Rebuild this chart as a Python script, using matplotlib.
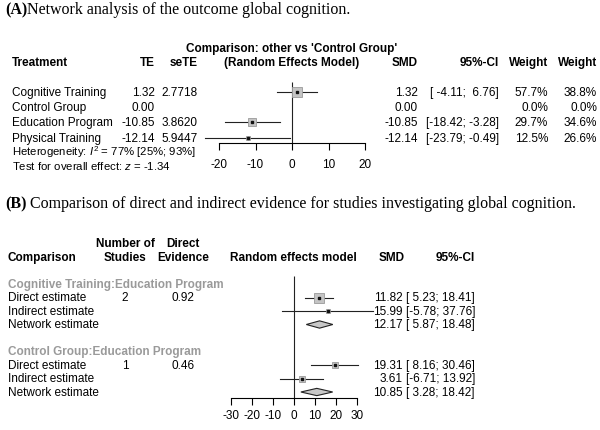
import matplotlib
matplotlib.use("Agg")
import matplotlib.pyplot as plt
from matplotlib.text import Annotation

# ---- data: panel A (network meta-analysis vs Control Group) ----
treatments = ["Cognitive Training", "Control Group", "Education Program", "Physical Training"]
te = [1.32, 0.00, -10.85, -12.14]
se_te = [2.7718, None, 3.8620, 5.9447]
ci_low = [-4.11, None, -18.42, -23.79]
ci_high = [6.76, None, -3.28, -0.49]
weight_fixed = [57.7, 0.0, 29.7, 12.5]
weight_random = [38.8, 0.0, 34.6, 26.6]
ticks_a = [-20, -10, 0, 10, 20]

# ---- data: panel B (direct vs indirect evidence) ----
comparisons = ["Cognitive Training:Education Program", "Control Group:Education Program"]
n_studies = [2, 1]
direct_evidence = [0.92, 0.46]
est_labels = ["Direct estimate", "Indirect estimate", "Network estimate"]
smd_b = [[11.82, 15.99, 12.17], [19.31, 3.61, 10.85]]
low_b = [[5.23, -5.78, 5.87], [8.16, -6.71, 3.28]]
high_b = [[18.41, 37.76, 18.48], [30.46, 13.92, 18.42]]
ticks_b = [-30, -20, -10, 0, 10, 20, 30]

W, H = 600, 431
SANS = "Liberation Sans"
SERIF = "Liberation Serif"
FS = 8.5
plt.rcParams["mathtext.fontset"] = "custom"
plt.rcParams["mathtext.it"] = "Liberation Sans:italic"
plt.rcParams["mathtext.rm"] = "Liberation Sans"

fig = plt.figure(figsize=(W / 100, H / 100), dpi=100)


def txt(x, y, s, ha="left", **kw):
    kw.setdefault("family", SANS)
    kw.setdefault("fontsize", FS)
    return fig.text(x / W, 1 - y / H, s, ha=ha, va="center", **kw)


def title(x, y, tag, rest):
    # bold tag followed by regular text, baseline at y px
    t = fig.text(x / W, 1 - y / H, tag, family=SERIF, fontsize=11.5,
                 weight="bold", va="baseline")
    fig.add_artist(Annotation(rest, xy=(1, 0), xycoords=t, va="bottom",
                              family=SERIF, fontsize=11.5))


def forest_axes(left, right, top, bottom, zero_px, px_per_unit, row0_px, row_step,
                ticks, pad):
    ax = fig.add_axes([left / W, 1 - bottom / H, (right - left) / W, (bottom - top) / H])
    ax.set_xlim((left - zero_px) / px_per_unit, (right - zero_px) / px_per_unit)
    ax.set_ylim((bottom - row0_px) / row_step, (top - row0_px) / row_step)
    for s in ["top", "left", "right"]:
        ax.spines[s].set_visible(False)
    ax.spines["bottom"].set_bounds(ticks[0], ticks[-1])
    ax.spines["bottom"].set_linewidth(0.8)
    ax.set_yticks([])
    ax.set_xticks(ticks)
    ax.set_xticklabels([str(t) for t in ticks], family=SANS, fontsize=FS)
    ax.tick_params(axis="x", direction="out", length=5, width=0.8, pad=pad)
    ax.patch.set_alpha(0)
    return ax


# ================= Panel A =================
title(5, 14.5, "(A)", "Network analysis of the outcome global cognition.")

txt(292, 49, "Comparison: other vs 'Control Group'", ha="center", weight="bold")
hy = 63
txt(12, hy, "Treatment", weight="bold")
txt(155, hy, "TE", ha="right", weight="bold")
txt(198, hy, "seTE", ha="right", weight="bold")
txt(292, hy, "(Random Effects Model)", ha="center", weight="bold")
txt(418, hy, "SMD", ha="right", weight="bold")
txt(499, hy, "95%-CI", ha="right", weight="bold")
txt(548, hy, "Weight", ha="right", weight="bold")
txt(597, hy, "Weight", ha="right", weight="bold")

row0, step = 93, 15.2
for i, name in enumerate(treatments):
    y = row0 + step * i
    txt(12, y, name)
    txt(155, y, f"{te[i]:.2f}", ha="right")
    if se_te[i] is not None:
        txt(198, y, f"{se_te[i]:.4f}", ha="right")
        txt(499, y, f"[{ci_low[i]:6.2f}; {ci_high[i]:5.2f}]", ha="right")
    txt(418, y, f"{te[i]:.2f}", ha="right")
    txt(548, y, f"{weight_fixed[i]:.1f}%", ha="right")
    txt(597, y, f"{weight_random[i]:.1f}%", ha="right")

txt(12, 152.5, r"Heterogeneity: $I^2$ = 77% [25%; 93%]", fontsize=8.2)
txt(12, 166.5, r"Test for overall effect: $z$ = -1.34", fontsize=8.2)

axa = forest_axes(195, 382, 78, 144, 292, 3.65, row0, step, ticks_a, 6)
ylo, yhi = axa.get_ylim()
axa.vlines(0, ylo, (83 - row0) / step, color="#222222", lw=0.8)
for i in range(len(treatments)):
    if se_te[i] is None:
        continue
    axa.plot([ci_low[i], ci_high[i]], [i, i], color="#222222", lw=0.8, zorder=2)
    side = 1.4 * weight_fixed[i] ** 0.5
    axa.plot(te[i], i, marker="s", ms=side * 0.72, mfc="#c4c4c4", mec="#9a9a9a",
             mew=0.6, zorder=3)
    axa.plot(te[i], i, marker="s", ms=1.6, color="#111111", zorder=4)

# ================= Panel B =================
title(5, 208.5, "(B)", " Comparison of direct and indirect evidence for studies investigating global cognition.")

txt(125, 244, "Number of", ha="center", weight="bold")
txt(183, 244, "Direct", ha="center", weight="bold")
hy = 258
txt(8, hy, "Comparison", weight="bold")
txt(125, hy, "Studies", ha="center", weight="bold")
txt(183, hy, "Evidence", ha="center", weight="bold")
txt(293, hy, "Random effects model", ha="center", weight="bold")
txt(405, hy, "SMD", ha="right", weight="bold")
txt(475, hy, "95%-CI", ha="right", weight="bold")

row0b, stepb = 285, 13.5
axb = forest_axes(215, 382, 272, 399, 294, 2.1, row0b, stepb, ticks_b, 3)
ylo, yhi = axb.get_ylim()
axb.vlines(0, ylo, (277 - row0b) / stepb, color="#222222", lw=0.8)

for g, comp in enumerate(comparisons):
    base = g * 5
    txt(8, row0b + stepb * base, comp, color="#9a9a9a", weight="bold")
    for k, lab in enumerate(est_labels):
        r = base + 1 + k
        y = row0b + stepb * r
        txt(8, y, lab)
        if k == 0:
            txt(125, y, str(n_studies[g]), ha="center")
            txt(183, y, f"{direct_evidence[g]:.2f}", ha="center")
        m, lo, hi = smd_b[g][k], low_b[g][k], high_b[g][k]
        txt(403, y, f"{m:.2f}", ha="right")
        txt(475, y, f"[{lo:5.2f}; {hi:5.2f}]", ha="right")
        if k < 2:
            axb.plot([lo, hi], [r, r], color="#222222", lw=0.8, zorder=2, clip_on=False)
            se = (hi - lo) / 3.92
            side = 33.6 / se
            axb.plot(m, r, marker="s", ms=side * 0.72, mfc="#c4c4c4", mec="#9a9a9a",
                     mew=0.6, zorder=3, clip_on=False)
            axb.plot(m, r, marker="s", ms=1.6, color="#111111", zorder=4, clip_on=False)
        else:
            h = 0.27
            axb.fill([lo, m, hi, m], [r, r - h, r, r + h], facecolor="#c8c8c8",
                     edgecolor="#222222", lw=0.8, zorder=3)

fig.savefig("out.png", dpi=100)
